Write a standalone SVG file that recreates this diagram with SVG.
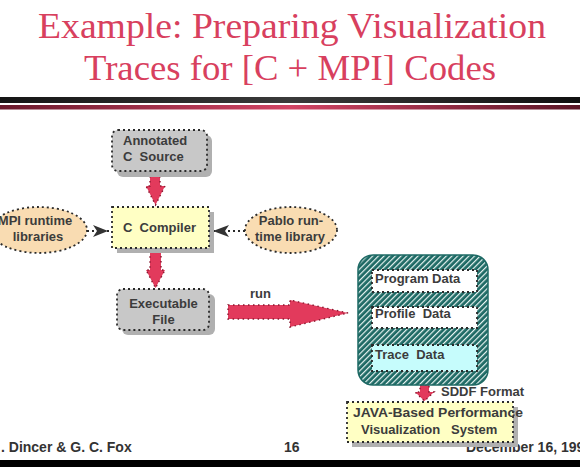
<svg xmlns="http://www.w3.org/2000/svg" width="580" height="467" viewBox="0 0 580 467">
<style>
.title{font-family:"Liberation Serif","Times New Roman",serif;font-size:35px;fill:#d8405e;text-anchor:middle}
.lbl{font-family:"Liberation Sans",Arial,sans-serif;font-size:13px;font-weight:bold;fill:#3c3c3c}
.foot{font-family:"Liberation Sans",Arial,sans-serif;font-size:14px;font-weight:bold;fill:#333}
.dot{stroke:#2a2a2a;stroke-width:1.8;stroke-dasharray:2 3}
.shadow{fill:#b0b0b0}
.redarrow{fill:#e23a5c;stroke:#8a1830;stroke-width:1.4;stroke-dasharray:1.5 3.5}
</style>
<defs>
<linearGradient id="gBlack" x1="0" x2="1" y1="0" y2="0">
<stop offset="0" stop-color="#151515"/><stop offset="0.5" stop-color="#3a3a3a"/><stop offset="1" stop-color="#101010"/>
</linearGradient>
<linearGradient id="gRed" x1="0" x2="1" y1="0" y2="0">
<stop offset="0" stop-color="#6a1a2c"/><stop offset="0.5" stop-color="#d24464"/><stop offset="1" stop-color="#5a1626"/>
</linearGradient>
<pattern id="hatch" width="4" height="4" patternUnits="userSpaceOnUse" patternTransform="rotate(45)">
<rect width="4" height="4" fill="#1d6964"/>
<rect width="1.2" height="4" fill="#e8f4f2"/>
</pattern>
</defs>

<rect width="580" height="467" fill="#ffffff"/>

<g id="title">
<text class="title" x="292" y="38" textLength="508" lengthAdjust="spacingAndGlyphs">Example: Preparing Visualization</text>
<text class="title" x="290" y="80" textLength="412" lengthAdjust="spacingAndGlyphs">Traces for [C + MPI] Codes</text>
<rect x="0" y="97" width="580" height="6" fill="url(#gBlack)"/>
<rect x="0" y="105" width="580" height="4.5" fill="url(#gRed)"/>
</g>

<g id="footer">
<text class="foot" x="1" y="452">. Dincer &amp; G. C. Fox</text>
<text class="foot" x="284" y="452">16</text>
<text class="foot" x="466" y="452">December 16, 199</text>
<rect x="0" y="460" width="580" height="7" fill="#000"/>
</g>

<g id="connectors">
<polygon class="redarrow" points="150,171 160,171 160,186 165,186 155.5,205 146,186 150,186"/>
<polygon class="redarrow" points="150,252 161,252 161,270 165,270 155.5,288 146,270 150,270"/>
<polygon class="redarrow" points="228,305 290,305 290,300 348,313 290,327 290,319 228,319"/>
<polygon class="redarrow" points="420,385 429,385 429,392 434,392 424.5,401 415,392 420,392"/>
<line class="dot" x1="87" y1="231" x2="111" y2="231"/>
<polygon points="108,231 93,225 97,231 93,237" fill="#333"/>
<line class="dot" x1="245" y1="231" x2="213" y2="231"/>
<polygon points="213,231 229,225 225,231 229,237" fill="#333"/>
</g>

<g id="annotated">
<rect class="shadow" x="117" y="135" width="95" height="42" rx="6"/>
<rect x="112" y="130" width="95" height="41" rx="6" fill="#c8c8c8" class="dot"/>
<text class="lbl" x="123" y="145">Annotated</text>
<text class="lbl" x="123" y="161" xml:space="preserve">C  Source</text>
</g>

<g id="compiler">
<rect class="shadow" x="117" y="212" width="97" height="41"/>
<rect x="112" y="207" width="97" height="41" fill="#ffffc4" class="dot"/>
<text class="lbl" x="123" y="232" xml:space="preserve">C  Compiler</text>
</g>

<g id="executable">
<rect class="shadow" x="122" y="294" width="93" height="41" rx="6"/>
<rect x="117" y="289" width="92" height="41" rx="6" fill="#c8c8c8" class="dot"/>
<text class="lbl" x="163.5" y="308" text-anchor="middle">Executable</text>
<text class="lbl" x="163.5" y="324" text-anchor="middle">File</text>
</g>

<g id="mpi">
<ellipse cx="39" cy="230" rx="48" ry="23" fill="#f9dcb2" class="dot"/>
<text class="lbl" x="35" y="225" text-anchor="middle">MPI runtime</text>
<text class="lbl" x="38" y="241" text-anchor="middle">libraries</text>
</g>

<g id="pablo">
<ellipse cx="291" cy="230" rx="46" ry="23" fill="#f9dcb2" class="dot"/>
<text class="lbl" x="291" y="225" text-anchor="middle">Pablo run-</text>
<text class="lbl" x="290" y="241" text-anchor="middle">time library</text>
</g>

<g id="runlabel">
<text class="lbl" x="250" y="298">run</text>
</g>

<g id="data">
<rect x="358" y="255" width="130" height="130" rx="15" fill="url(#hatch)"/>
<rect x="358" y="255" width="130" height="130" rx="15" fill="none" stroke="#1d6964" stroke-width="1.5"/>
<g id="program">
<rect x="372" y="270" width="105" height="22" fill="#ffffff" class="dot"/>
<text class="lbl" x="375" y="283">Program Data</text>
</g>
<g id="profile">
<rect x="372" y="307" width="105" height="21" fill="#ffffff" class="dot"/>
<text class="lbl" x="375" y="318" xml:space="preserve">Profile  Data</text>
</g>
<g id="trace">
<rect x="372" y="345" width="105" height="26" fill="#c6fcfc" class="dot"/>
<text class="lbl" x="375" y="359" xml:space="preserve">Trace  Data</text>
</g>
</g>

<g id="sddf">
<text class="lbl" x="441" y="396">SDDF Format</text>
</g>

<g id="java">
<rect class="shadow" x="352" y="407" width="166" height="40"/>
<rect x="347" y="402" width="166" height="40" fill="#ffffc4" class="dot"/>
<text class="lbl" x="353" y="417" textLength="170" lengthAdjust="spacingAndGlyphs">JAVA-Based Performance</text>
<text class="lbl" x="361" y="434" xml:space="preserve">Visualization   System</text>
</g>
</svg>
